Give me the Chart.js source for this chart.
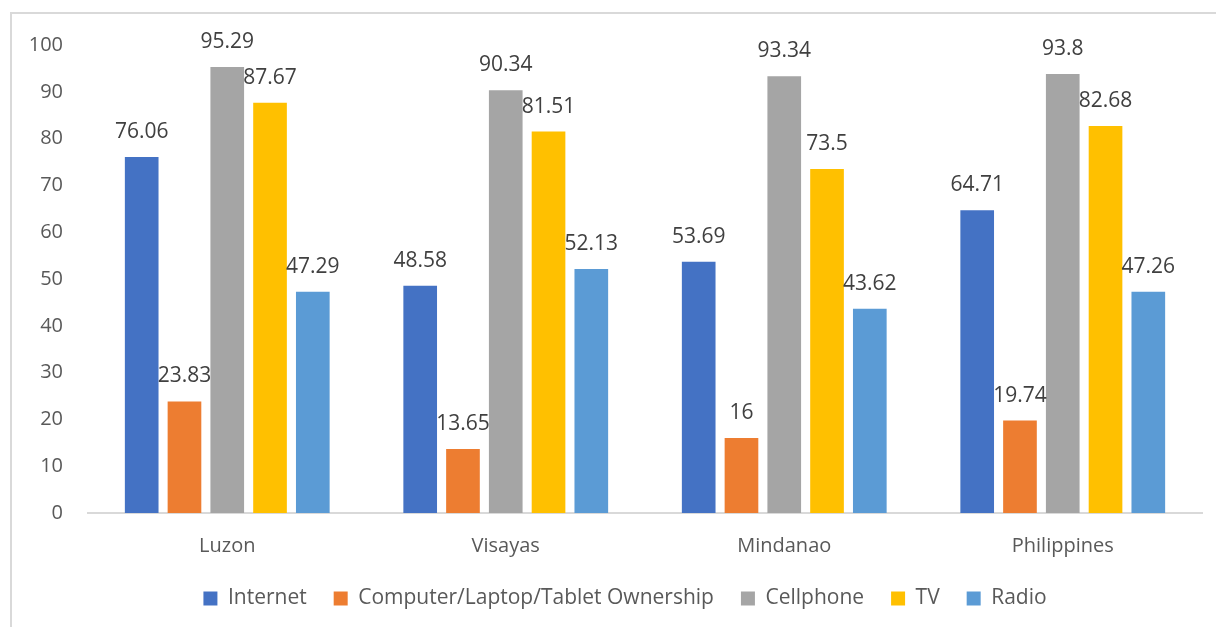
<!DOCTYPE html>
<html>
<head>
<meta charset="utf-8">
<script src="https://cdn.jsdelivr.net/npm/chart.js@4/dist/chart.umd.min.js"></script>
<style>
  html, body { margin: 0; padding: 0; background: #fff; overflow: hidden; }
  body { width: 1216px; height: 627px; position: relative; }
  #frame {
    position: absolute; left: 10px; top: 12px; width: 1300px; height: 700px;
    border-top: 2px solid #d9d9d9; border-left: 2px solid #d9d9d9;
  }
  #wrap { position: absolute; left: 0; top: 0; width: 1250px; height: 627px; }
</style>
</head>
<body>
<div id="frame"></div>
<div id="wrap"><canvas id="chart"></canvas></div>
<script>
const regions = ['Luzon', 'Visayas', 'Mindanao', 'Philippines'];
const internet = [76.06, 48.58, 53.69, 64.71];
const computerOwnership = [23.83, 13.65, 16, 19.74];
const cellphone = [95.29, 90.34, 93.34, 93.8];
const tv = [87.67, 81.51, 73.5, 82.68];
const radio = [47.29, 52.13, 43.62, 47.26];

const FONT = "'Open Sans', 'Liberation Sans', sans-serif";

// draws the value above each bar, like the excel data labels
const valueLabels = {
  id: 'valueLabels',
  afterDatasetsDraw(chart) {
    const ctx = chart.ctx;
    ctx.save();
    ctx.font = '21px ' + FONT;
    ctx.fillStyle = '#404040';
    ctx.textAlign = 'center';
    ctx.textBaseline = 'alphabetic';
    chart.data.datasets.forEach((ds, i) => {
      const meta = chart.getDatasetMeta(i);
      meta.data.forEach((bar, j) => {
        ctx.fillText(String(ds.data[j]), bar.x, bar.y - 19);
      });
    });
    ctx.restore();
  },
};

function makeSet(label, data, color) {
  return {
    label: label,
    data: data,
    backgroundColor: color,
    borderWidth: 0,
    yAxisID: 'y',
    categoryPercentage: 0.768,
    barPercentage: 0.787,
  };
}

new Chart(document.getElementById('chart'), {
  type: 'bar',
  data: {
    labels: regions,
    datasets: [
      makeSet('Internet', internet, '#4472C4'),
      makeSet('Computer/Laptop/Tablet Ownership', computerOwnership, '#ED7D31'),
      makeSet('Cellphone', cellphone, '#A5A5A5'),
      makeSet('TV', tv, '#FFC000'),
      makeSet('Radio', radio, '#5B9BD5'),
    ],
  },
  options: {
    responsive: true,
    maintainAspectRatio: false,
    animation: false,
    layout: { padding: { top: 45, left: 0, right: 0, bottom: 8 } },
    plugins: {
      tooltip: { enabled: false },
      legend: {
        position: 'bottom',
        labels: {
          boxWidth: 14,
          boxHeight: 14,
          padding: 27,
          color: '#595959',
          font: { family: FONT, size: 21 },
        },
      },
    },
    scales: {
      x: {
        grid: { display: false, drawTicks: false },
        border: { display: true, color: '#d9d9d9', width: 2 },
        ticks: { color: '#595959', padding: 21, font: { family: FONT, size: 20 } },
        afterFit: (s) => { s.height = 48; },
      },
      y: {
        min: 0,
        max: 100,
        grid: { display: false, drawTicks: false },
        border: { display: false },
        ticks: { stepSize: 10, color: '#595959', padding: 25, font: { family: FONT, size: 20 } },
        afterFit: (s) => { s.width = 88; },
      },
      // empty space on the right, the excel chart area goes past the picture
      yRight: {
        position: 'right',
        grid: { display: false, drawTicks: false },
        border: { display: false },
        ticks: { display: false },
        afterFit: (s) => { s.width = 48; },
      },
    },
  },
  plugins: [valueLabels],
});
</script>
</body>
</html>
